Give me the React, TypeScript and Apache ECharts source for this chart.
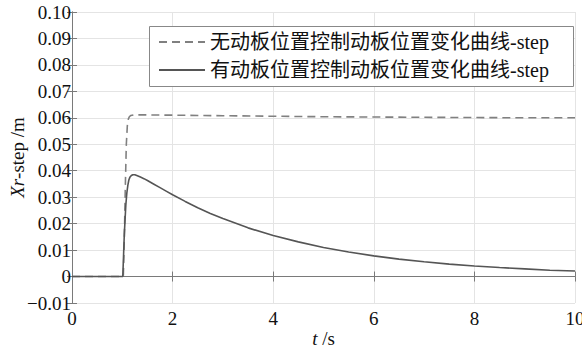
import React, { useEffect, useRef } from "react";
import * as echarts from "echarts";

const seriesNames = [
  "无动板位置控制动板位置变化曲线-step",
  "有动板位置控制动板位置变化曲线-step",
];

// time (s) and displacement (m)
const tNoControl = [0, 1.02, 1.04, 1.06, 1.08, 1.1, 1.12, 1.14, 1.17, 1.22, 1.5, 2, 3, 4, 5, 6, 7, 8, 9, 10];
const xNoControl = [0, 0, 0.014, 0.034, 0.05, 0.057, 0.0595, 0.0604, 0.0609, 0.0611, 0.0611, 0.061, 0.0608, 0.0606, 0.0604, 0.0603, 0.0602, 0.0601, 0.06, 0.06];

const tControl = [0, 1.01, 1.04, 1.07, 1.09, 1.11, 1.13, 1.15, 1.18, 1.21, 1.25, 1.3, 1.36, 1.43, 1.5, 1.62, 1.75, 1.88, 2, 2.25, 2.5, 2.75, 3, 3.5, 4, 4.5, 5, 5.5, 6, 6.5, 7, 7.5, 8, 8.5, 9, 9.5, 10];
const xControl = [0, 0, 0.016, 0.027, 0.0315, 0.0345, 0.0365, 0.0375, 0.0382, 0.0385, 0.0385, 0.0381, 0.0376, 0.037, 0.0363, 0.035, 0.0336, 0.0322, 0.0309, 0.0284, 0.026, 0.0238, 0.0219, 0.0184, 0.0155, 0.0131, 0.011, 0.0093, 0.0078, 0.0066, 0.0056, 0.0047, 0.004, 0.0034, 0.0029, 0.0024, 0.0021];

const yMin = -0.01;
const yMax = 0.1;
const yStep = 0.01;
const xMin = 0;
const xMax = 10;
const xStep = 2;

const SERIF = "Liberation Serif, Noto Sans CJK SC, serif";

export default function App() {
  const ref = useRef<HTMLDivElement>(null);
  useEffect(() => {
    document.body.style.margin = "0";
    const chart = echarts.init(ref.current!, null, { renderer: "svg" });
    const frame = "#7a7a7a";
    const gridColor = "#e4e4e4";
    const yFmt = (v: number) =>
      Math.abs(v) < 1e-9 ? "0" : (v < 0 ? "\u2212" : "") + Math.abs(v).toFixed(2);
    chart.setOption({
      animation: false,
      backgroundColor: "#ffffff",
      grid: { left: 72, top: 12, width: 503, height: 291, containLabel: false, outerBoundsMode: "none" },
      graphic: [
        {
          type: "rect",
          z: 10,
          left: 149,
          top: 26,
          shape: { width: 424, height: 60 },
          style: { fill: "#ffffff", stroke: "#888888", lineWidth: 1 },
        },
      ],
      legend: {
        show: true,
        z: 20,
        orient: "vertical",
        left: 149,
        top: 26,
        padding: [5, 10, 5, 9],
        itemWidth: 46,
        itemHeight: 14,
        itemGap: 6,
        itemStyle: { opacity: 0 },
        textStyle: { fontFamily: SERIF, fontSize: 20, lineHeight: 22, color: "#111" },
        data: seriesNames,
      },
      xAxis: [
        {
          type: "value",
          min: xMin,
          max: xMax,
          interval: xStep,
          position: "bottom",
          name: "{i|t} /s",
          nameLocation: "middle",
          nameGap: 26,
          nameMoveOverlap: false,
          nameTextStyle: {
            fontFamily: SERIF,
            fontSize: 19,
            color: "#111",
            rich: { i: { fontStyle: "italic", fontFamily: SERIF, fontSize: 19, color: "#111" } },
          },
          axisLine: { show: true, lineStyle: { color: frame, width: 1 } },
          axisTick: { show: true, inside: true, length: 5, lineStyle: { color: frame } },
          axisLabel: { fontFamily: SERIF, fontSize: 19, color: "#111", margin: 6 },
          splitLine: { show: true, lineStyle: { color: gridColor, width: 1 } },
        },
        {
          type: "value",
          min: xMin,
          max: xMax,
          interval: xStep,
          position: "top",
          axisLine: { show: true, lineStyle: { color: frame, width: 1 } },
          axisTick: { show: true, inside: true, length: 5, lineStyle: { color: frame } },
          axisLabel: { show: false },
          splitLine: { show: false },
        },
      ],
      yAxis: [
        {
          type: "value",
          min: yMin,
          max: yMax,
          interval: yStep,
          position: "left",
          name: "{i|Xr}-step /m",
          nameLocation: "middle",
          nameGap: 45,
          nameRotate: 90,
          nameMoveOverlap: false,
          nameTextStyle: {
            fontFamily: SERIF,
            fontSize: 19,
            color: "#111",
            rich: { i: { fontStyle: "italic", fontFamily: SERIF, fontSize: 19, color: "#111" } },
          },
          axisLine: { show: true, lineStyle: { color: frame, width: 1 } },
          axisTick: { show: true, inside: true, length: 5, lineStyle: { color: frame } },
          axisLabel: { fontFamily: SERIF, fontSize: 19, color: "#111", margin: 1, formatter: yFmt },
          splitLine: { show: true, lineStyle: { color: gridColor, width: 1 } },
        },
        {
          type: "value",
          min: yMin,
          max: yMax,
          interval: yStep,
          position: "right",
          axisLine: { show: true, lineStyle: { color: frame, width: 1 } },
          axisTick: { show: true, inside: true, length: 5, lineStyle: { color: frame } },
          axisLabel: { show: false },
          splitLine: { show: false },
        },
      ],
      series: [
        {
          name: seriesNames[0],
          type: "line",
          showSymbol: false,
          symbol: "none",
          lineStyle: { color: "#808080", width: 1.6, type: [8, 5] },
          itemStyle: { color: "#808080" },
          data: tNoControl.map((t, i) => [t, xNoControl[i]]),
        },
        {
          name: seriesNames[1],
          type: "line",
          showSymbol: false,
          symbol: "none",
          lineStyle: { color: "#555555", width: 1.6 },
          itemStyle: { color: "#555555" },
          data: tControl.map((t, i) => [t, xControl[i]]),
        },
      ],
    });
    return () => chart.dispose();
  }, []);
  return (
    <div
      ref={ref}
      style={{ position: "absolute", left: 0, top: 0, width: 582, height: 350 }}
    />
  );
}
